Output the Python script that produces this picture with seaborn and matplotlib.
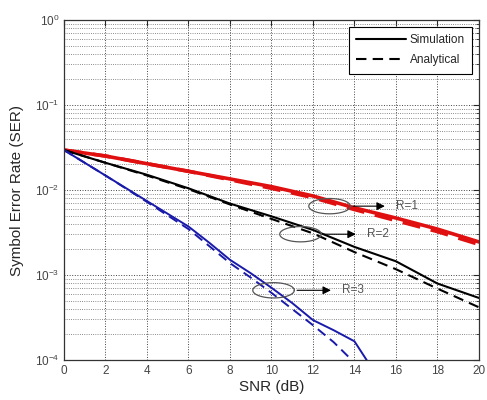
import numpy as np
import pandas as pd
import matplotlib
matplotlib.use('Agg')
import matplotlib.pyplot as plt
import seaborn as sns

# SNR grid and SER curves
snr = [0, 2, 4, 6, 8, 10, 12, 14, 16, 18, 20]
r1_sim = [0.0295, 0.0251, 0.0204, 0.0166, 0.0135, 0.01096, 0.00851, 0.00617, 0.00468, 0.00347, 0.00245]
r1_ana = [0.0295, 0.0251, 0.0204, 0.0166, 0.0132, 0.01047, 0.00813, 0.00589, 0.00437, 0.00324, 0.00229]
r2_sim = [0.0295, 0.0209, 0.0151, 0.01047, 0.00692, 0.0049, 0.00339, 0.00214, 0.00145, 0.000794, 0.000537]
r2_ana = [0.0295, 0.0209, 0.0148, 0.01023, 0.00676, 0.00457, 0.00309, 0.00186, 0.00117, 0.000692, 0.000417]

snr_r3 = [0, 2, 4, 6, 7, 8, 9, 10, 11, 12, 13, 14, 15]
r3_sim = [0.0295, 0.0148, 0.00741, 0.00372, 0.0024, 0.00151, 0.00105, 0.000708, 0.000468, 0.000295, 0.000224, 0.000166, 0.00007]
r3_ana = [0.0295, 0.0148, 0.00724, 0.00347, 0.00219, 0.00138, 0.000933, 0.000617, 0.000398, 0.000257, 0.000162, 0.000093, 0.00005]

# annotation: ellipse centre (snr, log10 SER), arrow end snr, label
labels = ['R=1', 'R=2', 'R=3']
ell_x = [12.8, 11.4, 10.1]
ell_y = [-2.19, -2.52, -3.18]
arrow_end = [15.6, 14.2, 13.0]

sns.set_style('white')
plt.rcParams['font.family'] = ['Liberation Sans', 'DejaVu Sans']
plt.rcParams['mathtext.fontset'] = 'custom'
plt.rcParams['mathtext.rm'] = 'Liberation Sans'

fig = plt.figure(figsize=(4.87, 4.0), dpi=100)
ax = fig.add_axes([0.1314, 0.10, 0.852, 0.85])

series = [
    (snr, r1_sim, r1_ana, '#e01010', 2.6),
    (snr, r2_sim, r2_ana, 'black', 1.5),
    (snr_r3, r3_sim, r3_ana, '#1a1aaa', 1.4),
]
for x, sim, ana, col, lw in series:
    sns.lineplot(x=x, y=sim, color=col, lw=lw, ax=ax)
    sns.lineplot(x=x, y=ana, color=col, lw=lw, ax=ax, linestyle=(0, (5, 3)))

ax.set_yscale('log')
ax.set_xlim(0, 20)
ax.set_ylim(1e-4, 1)
ax.set_xticks(range(0, 21, 2))

ax.grid(True, which='major', axis='both', linestyle=':', color='#444444', lw=0.7)
ax.grid(True, which='minor', axis='y', linestyle=':', color='#666666', lw=0.6)
ax.tick_params(which='both', direction='in', top=True, right=True,
               labelsize=8.5, labelcolor='#444444')
ax.tick_params(which='major', length=4)
ax.tick_params(which='minor', length=2)
for s in ax.spines.values():
    s.set_color('#333333')
    s.set_linewidth(0.9)

ax.set_xlabel('SNR (dB)', fontsize=11, labelpad=2)
ax.set_ylabel('Symbol Error Rate (SER)', fontsize=11, labelpad=8)

# ellipses + arrows + labels
t = np.linspace(0, 2 * np.pi, 100)
for cx, cy, xe, lab in zip(ell_x, ell_y, arrow_end, labels):
    ax.plot(cx + 1.0 * np.cos(t), 10 ** (cy + 0.09 * np.sin(t)), color='#555555', lw=0.9)
    y0 = 10 ** cy
    ax.annotate('', xy=(xe, y0), xytext=(cx + 1.0, y0),
                arrowprops=dict(arrowstyle='-|>', color='black', lw=0.8,
                                mutation_scale=12))
    ax.text(xe + 0.4, y0, lab, fontsize=8.5, color='#555555', va='center', ha='left')

# legend
h1, = ax.plot([], [], color='black', lw=1.5, label='Simulation')
h2, = ax.plot([], [], color='black', lw=1.5, linestyle=(0, (5, 3)), label='Analytical')
leg = ax.legend(handles=[h1, h2], loc='upper right', fontsize=8.5, handlelength=4.2,
                frameon=True, fancybox=False, edgecolor='black', framealpha=1,
                borderaxespad=0.6, borderpad=0.6, handletextpad=0.3, labelspacing=0.7)
leg.get_frame().set_linewidth(0.8)

fig.savefig('out.png', dpi=100)
